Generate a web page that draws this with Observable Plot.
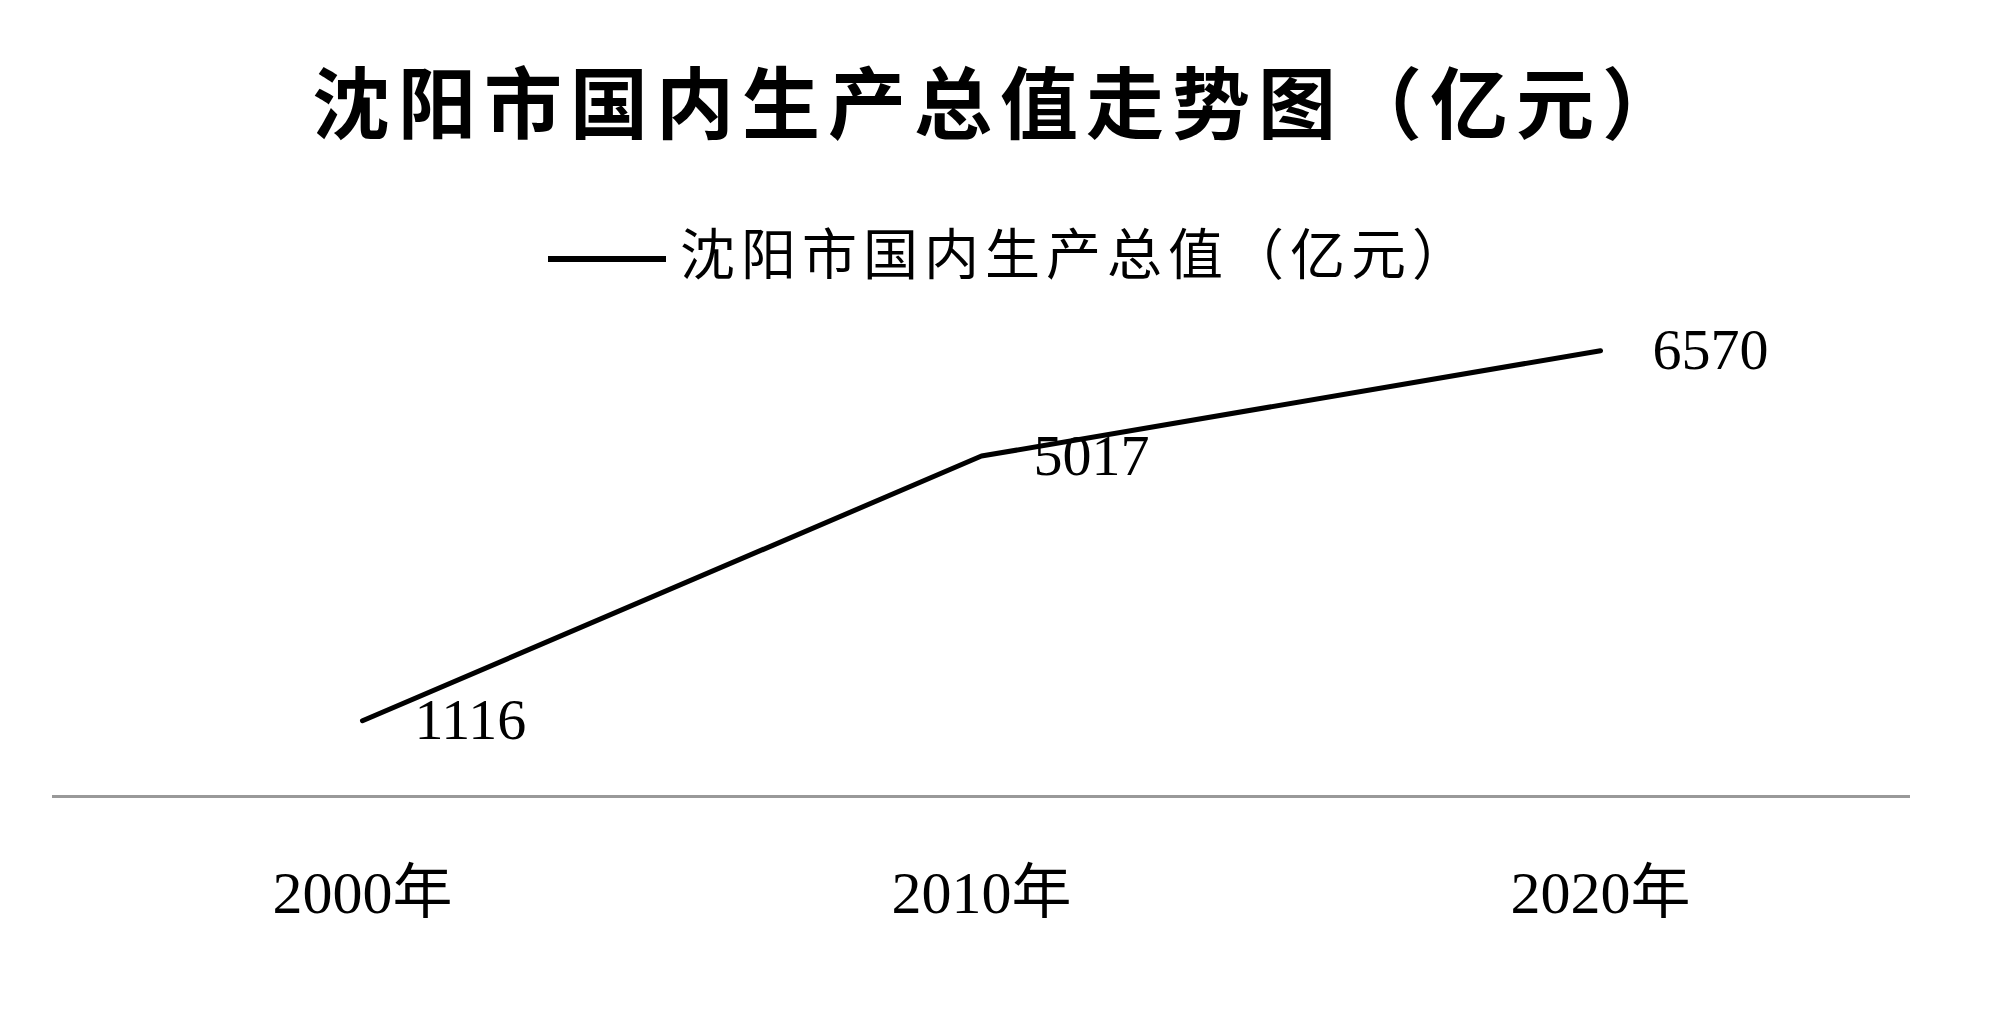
<!DOCTYPE html>
<html>
<head>
<meta charset="utf-8">
<script src="https://cdn.jsdelivr.net/npm/d3@7"></script>
<script src="https://cdn.jsdelivr.net/npm/@observablehq/plot@0.6"></script>
<style>
  html, body { margin: 0; padding: 0; background: #fff; }
  #wrap { position: relative; width: 2000px; height: 1012px; overflow: hidden; background: #fff; }
  #header { position: relative; width: 2000px; height: 300px; }
  #title { position: absolute; left: 0px; top: 60px; width: 2000px; text-align: center;
    font-family: "Noto Sans CJK SC", sans-serif; font-weight: 700; font-size: 78px; line-height: 78px;
    letter-spacing: 8px; color: #000; white-space: nowrap; }
  #legend-swatch { position: absolute; left: 548px; top: 256px; width: 118px; height: 6px; background: #000; }
  #legend-text { position: absolute; left: 680px; top: 228px; font-family: "Liberation Serif", "Noto Sans CJK SC", serif;
    font-size: 55px; line-height: 55px; letter-spacing: 6px; color: #000; white-space: nowrap; }
  #chart svg { display: block; }
</style>
</head>
<body>
<div id="wrap">
  <div id="header">
    <div id="title">沈阳市国内生产总值走势图（亿元）</div>
    <div id="legend-swatch"></div>
    <div id="legend-text">沈阳市国内生产总值（亿元）</div>
  </div>
  <div id="chart"></div>
</div>
<script>
const categories = ["2000年", "2010年", "2020年"];
const gdpValues = [1116, 5017, 6570];
const seriesName = "沈阳市国内生产总值（亿元）";

const data = categories.map((c, i) => ({year: c, value: gdpValues[i]}));

const chart = Plot.plot({
  width: 2000,
  height: 712,
  marginLeft: 52,
  marginRight: 90,
  marginTop: 21,
  marginBottom: 216,
  style: {fontFamily: "'Liberation Serif', 'Noto Sans CJK SC', serif", color: "#000", background: "#fff"},
  x: {type: "point", domain: categories, padding: 0.5, axis: null},
  y: {domain: [0, 7000], axis: null},
  marks: [
    Plot.ruleY([0], {stroke: "#999", strokeWidth: 3}),
    Plot.axisX({tickSize: 0, tickPadding: 74, fontSize: 60, fill: "#000", label: null}),
    Plot.line(data, {x: "year", y: "value", stroke: "#000", strokeWidth: 5}),
    Plot.text(data, {x: "year", y: "value", text: d => String(d.value), textAnchor: "start", lineAnchor: "middle", dx: 52, fontSize: 58, fill: "#000"})
  ]
});
document.getElementById("chart").appendChild(chart);
</script>
</body>
</html>
